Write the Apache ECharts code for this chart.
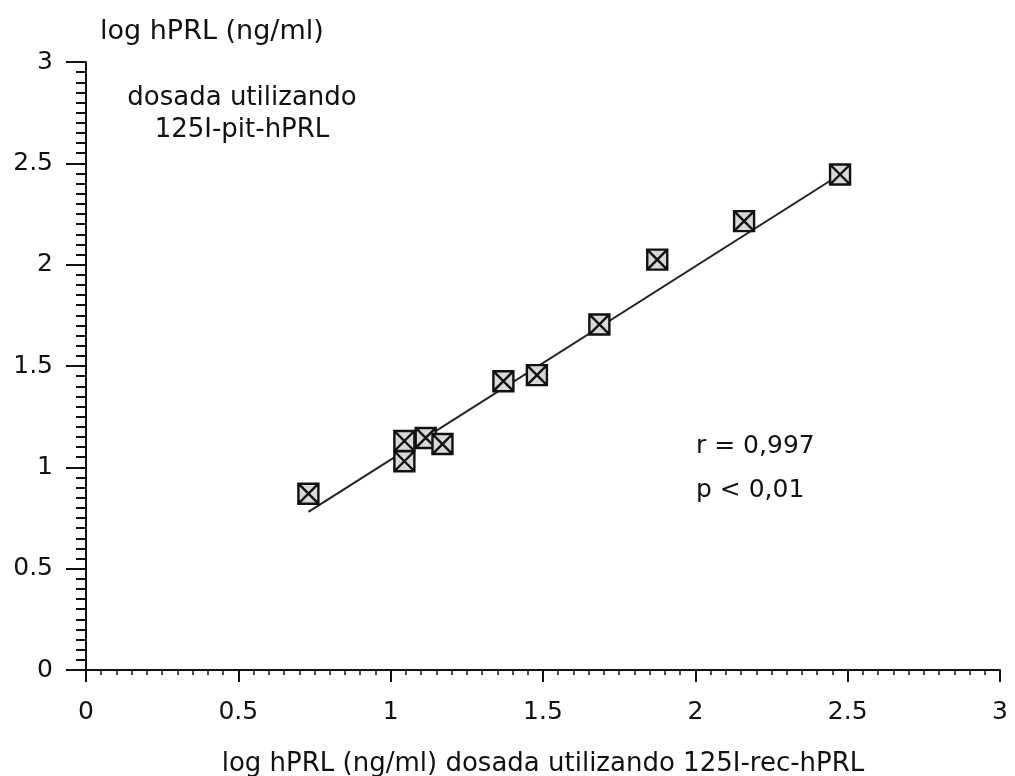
<!DOCTYPE html>
<html>
<head>
<meta charset="utf-8">
<script src="https://cdn.jsdelivr.net/npm/echarts@6/dist/echarts.min.js"></script>
<style>
html,body{margin:0;padding:0;background:#fff;}
#chart{width:1015px;height:776px;}
</style>
</head>
<body>
<div id="chart"></div>
<script>
// Measured points: log hPRL (125I-rec-hPRL) vs log hPRL (125I-pit-hPRL)
var xValues = [0.73, 1.045, 1.045, 1.115, 1.17, 1.37, 1.48, 1.685, 1.875, 2.16, 2.475];
var yValues = [0.87, 1.13, 1.03, 1.145, 1.115, 1.425, 1.455, 1.705, 2.025, 2.215, 2.445];
// Regression line end points
var fitX = [0.73, 2.475];
var fitY = [0.78, 2.445];
var xTicks = ['0', '0.5', '1', '1.5', '2', '2.5', '3'];
var yTicks = ['0', '0.5', '1', '1.5', '2', '2.5', '3'];
var xTitle = 'log hPRL (ng/ml) dosada utilizando 125I-rec-hPRL';
var yTitle = 'log hPRL (ng/ml)';
var noteTop = 'dosada utilizando\n125I-pit-hPRL';
var noteStats = 'r = 0,997\np < 0,01';

var FONT = 'DejaVu Sans';
var INK = '#111';

var points = xValues.map(function (x, i) { return [x, yValues[i]]; });
var fitLine = fitX.map(function (x, i) { return [x, fitY[i]]; });

function tickLabel(list) {
  return function (v) {
    var i = Math.round(v / 0.5);
    return list[i] !== undefined ? list[i] : '';
  };
}

var chart = echarts.init(document.getElementById('chart'), null, {renderer: 'canvas'});
chart.setOption({
  backgroundColor: '#fff',
  animation: false,
  grid: {left: 86, right: 15, top: 62, bottom: 106, containLabel: false, outerBoundsMode: 'none'},
  xAxis: {
    type: 'value', min: 0, max: 3, interval: 0.5,
    name: xTitle, nameLocation: 'middle', nameGap: 81,
    nameTextStyle: {fontFamily: FONT, fontSize: 26, color: INK},
    axisLine: {show: true, lineStyle: {color: INK, width: 2}},
    axisTick: {show: true, inside: false, length: 12, lineStyle: {color: INK, width: 2}},
    minorTick: {show: true, splitNumber: 10, length: 5, lineStyle: {color: INK, width: 1.5}},
    splitLine: {show: false},
    axisLabel: {fontFamily: FONT, fontSize: 25, color: INK, margin: 30, formatter: tickLabel(xTicks)}
  },
  yAxis: {
    type: 'value', min: 0, max: 3, interval: 0.5, position: 'left',
    name: yTitle, nameLocation: 'end', nameGap: 17,
    nameTextStyle: {fontFamily: FONT, fontSize: 27, color: INK, align: 'left', padding: [0, 0, 0, 14]},
    axisLine: {show: true, lineStyle: {color: INK, width: 2}},
    axisTick: {show: true, inside: false, length: 20, lineStyle: {color: INK, width: 2}},
    minorTick: {show: true, splitNumber: 10, length: 10, lineStyle: {color: INK, width: 2}},
    splitLine: {show: false},
    axisLabel: {fontFamily: FONT, fontSize: 25, color: INK, margin: 33, formatter: tickLabel(yTicks)}
  },
  graphic: [{
    type: 'text', x: 242, y: 114,
    style: {text: noteTop, fontFamily: FONT, fontSize: 26, fill: INK, textAlign: 'center', textVerticalAlign: 'middle', lineHeight: 32}
  }, {
    type: 'text', x: 696, y: 468,
    style: {text: noteStats, fontFamily: FONT, fontSize: 25, fill: INK, textAlign: 'left', textVerticalAlign: 'middle', lineHeight: 44}
  }],
  series: [{
    type: 'line', data: fitLine,
    showSymbol: false, symbol: 'none',
    lineStyle: {color: '#222', width: 2}, z: 2
  }, {
    type: 'scatter', data: points,
    symbol: 'path://M0,0H10V10H0Z M0,0L10,10 M10,0L0,10',
    symbolSize: 20, symbolKeepAspect: true,
    itemStyle: {color: '#d8d8d8', borderColor: INK, borderWidth: 2.4, opacity: 1}, z: 3
  }]
});
</script>
</body>
</html>
